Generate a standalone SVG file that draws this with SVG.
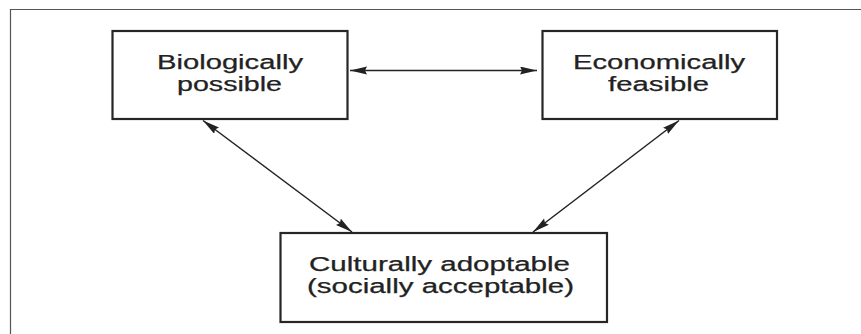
<svg xmlns="http://www.w3.org/2000/svg" width="861" height="334" viewBox="0 0 861 334">
<style>
.box{fill:#fff;stroke:#262626;stroke-width:2.2}
.lbl{font-family:"Liberation Sans",Arial,sans-serif;font-size:20px;fill:#222;text-anchor:middle;stroke:#222;stroke-width:0.25}
.conn{stroke:#222;stroke-width:1.5;fill:none;marker-start:url(#ah);marker-end:url(#ah)}
.frame{stroke:#555;stroke-width:1.2;fill:none}
</style>
<defs>
<marker id="ah" markerUnits="userSpaceOnUse" markerWidth="18" markerHeight="9" refX="17" refY="4" orient="auto-start-reverse">
<path d="M0,0 L17,4 L0,8 L2,4 z" fill="#222"/>
</marker>
</defs>
<rect width="861" height="334" fill="#fff"/>
<path class="frame" d="M10.5,334 V9.5 H861"/>
<g id="connectors">
<line class="conn" x1="350" y1="70.5" x2="537" y2="70.5"/>
<line class="conn" x1="203" y1="120.5" x2="352" y2="232"/>
<line class="conn" x1="679" y1="120.5" x2="533" y2="232"/>
</g>
<g id="biologically">
<rect class="box" x="112.5" y="31" width="235" height="88"/>
<text class="lbl" x="230" y="69" textLength="146" lengthAdjust="spacingAndGlyphs">Biologically</text>
<text class="lbl" x="229.5" y="91" textLength="105" lengthAdjust="spacingAndGlyphs">possible</text>
</g>
<g id="economically">
<rect class="box" x="542.5" y="31" width="234.5" height="88"/>
<text class="lbl" x="659" y="69" textLength="172" lengthAdjust="spacingAndGlyphs">Economically</text>
<text class="lbl" x="658.5" y="91" textLength="101" lengthAdjust="spacingAndGlyphs">feasible</text>
</g>
<g id="culturally">
<rect class="box" x="280.5" y="233" width="326.5" height="89"/>
<text class="lbl" x="439.5" y="271" textLength="261" lengthAdjust="spacingAndGlyphs">Culturally adoptable</text>
<text class="lbl" x="440.5" y="293" textLength="267" lengthAdjust="spacingAndGlyphs">(socially acceptable)</text>
</g>
</svg>
